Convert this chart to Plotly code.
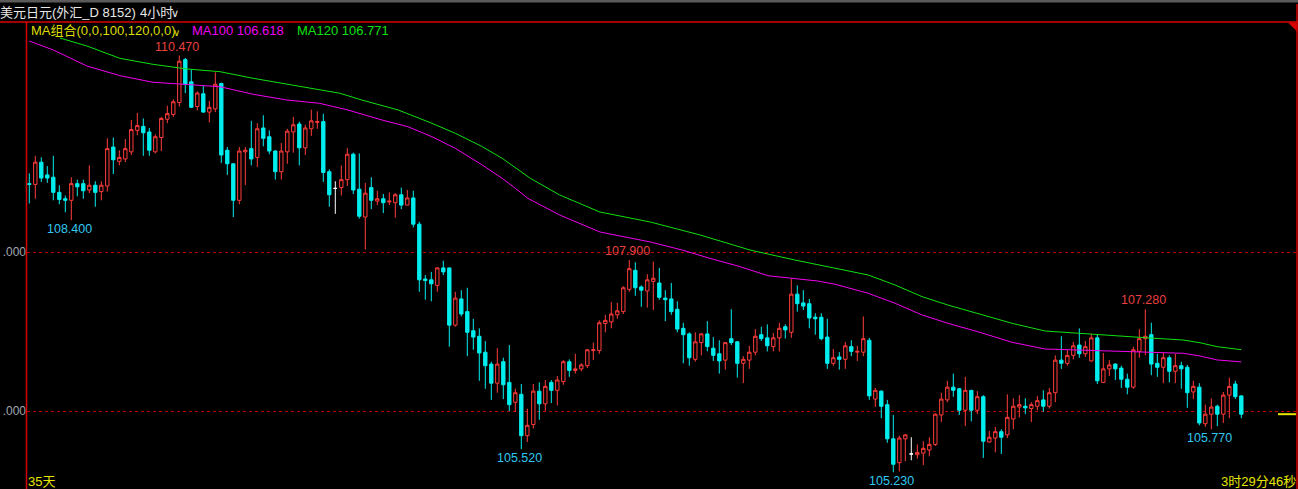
import numpy as np
import plotly.graph_objects as go

# ---------------- data ----------------
opens = [108.86,108.85,109.13,108.97,108.94,108.75,108.67,108.65,108.86,108.86,
         108.78,108.84,108.76,108.83,109.32,109.14,109.17,109.26,109.53,109.58,
         109.51,109.26,109.44,109.67,109.73,109.88,110.42,110.14,109.83,109.99,
         109.76,109.80,110.12,109.28,109.11,108.65,109.26,109.30,109.19,109.56,
         109.45,109.27,109.01,109.26,109.51,109.61,109.31,109.55,109.63,109.64,
         109.01,108.80,108.81,108.91,109.23,108.79,108.44,108.81,108.64,108.67,
         108.63,108.62,108.72,108.59,108.68,108.35,107.66,107.65,107.58,107.80,
         107.80,107.08,107.41,107.25,107.01,106.94,106.74,106.59,106.35,106.62,
         106.36,106.11,106.21,105.69,105.83,106.25,106.09,106.36,106.26,106.37,
         106.62,106.51,106.53,106.57,106.76,106.76,107.10,107.12,107.21,107.25,
         107.53,107.77,107.56,107.51,107.63,107.61,107.42,107.41,107.28,107.04,
         106.97,106.65,106.86,106.97,106.79,106.72,106.64,106.91,106.87,106.60,
         106.64,106.74,106.96,106.92,106.81,106.92,107.06,106.99,107.47,107.36,
         107.35,107.18,107.18,106.93,106.60,106.68,106.65,106.81,106.74,106.74,
         106.89,106.15,106.25,106.08,105.65,105.35,105.65,105.46,105.45,105.47,
         105.51,105.58,105.95,106.14,106.30,106.28,106.01,106.26,106.01,106.18,
         105.61,105.66,105.74,105.70,105.90,106.05,106.06,106.03,106.06,106.14,
         106.06,106.23,106.64,106.60,106.70,106.83,106.72,106.63,106.92,106.36,
         106.53,106.59,106.54,106.40,106.30,106.75,106.91,106.96,106.60,106.55,
         106.67,106.50,106.57,106.55,106.24,106.30,105.84,105.96,106.06,105.96,
         106.20,106.34,106.19]
highs = [108.99,109.21,109.19,109.08,109.21,108.84,108.71,108.94,108.91,108.91,
         109.09,108.89,108.89,109.43,109.44,109.28,109.42,109.66,109.75,109.68,
         109.56,109.48,109.70,109.84,109.92,110.47,110.44,110.30,110.02,110.09,
         109.90,110.26,110.13,109.32,109.11,109.32,109.32,109.65,109.62,109.72,
         109.53,109.28,109.37,109.55,109.70,109.64,109.60,109.79,109.77,109.74,
         109.04,108.89,109.09,109.31,109.25,109.24,108.87,108.94,108.77,108.73,
         108.75,108.74,108.81,108.78,108.77,108.38,107.71,107.75,107.81,107.89,
         107.80,107.50,107.52,107.55,107.16,107.04,106.88,106.62,106.79,106.67,
         106.83,106.28,106.34,106.03,106.34,106.36,106.39,106.39,106.44,106.64,
         106.65,106.72,106.60,106.78,106.86,107.14,107.21,107.37,107.36,107.57,
         107.90,107.87,107.58,107.72,107.88,107.80,107.52,107.61,107.38,107.11,
         106.99,106.99,106.98,107.13,106.93,106.89,106.86,107.28,106.88,106.69,
         106.82,107.03,107.06,107.09,106.98,107.11,107.09,107.66,107.58,107.52,
         107.41,107.23,107.23,107.16,106.78,106.74,106.87,106.89,106.82,107.19,
         106.92,106.29,106.26,106.14,105.95,105.69,105.71,105.67,105.58,105.62,
         105.67,105.97,106.23,106.38,106.47,106.29,106.43,106.26,106.25,106.20,
         105.75,105.80,105.77,106.21,106.16,106.20,106.16,106.11,106.19,106.26,
         106.29,106.70,106.94,106.77,106.87,107.04,106.88,106.97,106.96,106.73,
         106.64,106.60,106.57,106.47,106.81,107.03,107.28,107.11,106.72,106.74,
         106.70,106.72,106.62,106.58,106.38,106.35,106.08,106.16,106.08,106.24,
         106.42,106.38,106.20]
lows = [108.61,108.67,108.88,108.87,108.65,108.60,108.50,108.40,108.70,108.67,
        108.74,108.57,108.65,108.76,108.98,109.09,109.13,109.22,109.47,109.21,
        109.21,109.24,109.27,109.62,109.70,109.83,110.00,109.81,109.78,109.75,
        109.63,109.76,109.12,108.97,108.44,108.60,108.84,109.09,109.07,109.33,
        109.23,108.91,108.91,109.11,109.25,109.09,109.22,109.46,109.55,108.88,
        108.57,108.48,108.71,108.83,108.73,108.42,108.03,108.54,108.59,108.49,
        108.59,108.43,108.54,108.59,108.31,107.50,107.40,107.38,107.50,107.71,
        106.81,107.06,107.19,106.69,106.77,106.38,106.28,106.14,106.23,106.15,
        106.00,105.99,105.52,105.61,105.78,105.89,106.00,106.10,106.07,106.33,
        106.43,106.47,106.50,106.54,106.64,106.72,106.99,107.04,107.16,107.22,
        107.50,107.45,107.31,107.30,107.27,107.40,107.13,107.21,106.99,106.60,
        106.57,106.62,106.70,106.75,106.63,106.47,106.52,106.83,106.42,106.35,
        106.53,106.70,106.88,106.75,106.75,106.75,106.91,106.92,107.25,107.27,
        107.04,106.96,106.89,106.53,106.57,106.52,106.53,106.69,106.63,106.69,
        106.14,106.05,105.91,105.60,105.23,105.24,105.37,105.38,105.40,105.32,
        105.43,105.56,105.86,106.11,106.18,105.95,105.81,105.87,105.96,105.41,
        105.60,105.48,105.46,105.66,105.77,105.92,105.96,105.86,106.01,105.99,
        106.03,106.11,106.53,106.57,106.65,106.67,106.68,106.62,106.34,106.35,
        106.44,106.39,106.29,106.21,106.28,106.67,106.70,106.45,106.43,106.35,
        106.36,106.35,106.28,106.04,106.15,105.82,105.80,105.77,105.81,105.85,
        105.91,106.15,105.91]
closes = [108.85,109.13,108.93,108.93,108.75,108.66,108.65,108.86,108.82,108.77,
          108.84,108.75,108.84,109.30,109.16,109.19,109.30,109.54,109.59,109.50,
          109.28,109.45,109.68,109.74,109.89,110.40,110.11,109.82,110.00,109.76,
          109.82,110.11,109.22,109.11,108.65,109.27,109.28,109.17,109.55,109.43,
          109.27,109.01,109.27,109.52,109.60,109.31,109.56,109.65,109.64,109.00,
          108.72,108.80,108.91,109.23,108.78,108.45,108.74,108.65,108.67,108.62,
          108.64,108.72,108.59,108.68,108.35,107.65,107.64,107.60,107.80,107.75,
          107.08,107.42,107.22,106.99,106.93,106.73,106.57,106.35,106.59,106.33,
          106.08,106.23,105.69,105.82,106.25,106.09,106.31,106.26,106.39,106.62,
          106.51,106.53,106.58,106.77,106.77,107.11,107.14,107.22,107.26,107.55,
          107.79,107.55,107.52,107.65,107.67,107.43,107.40,107.25,107.03,106.96,
          106.67,106.87,106.97,106.81,106.70,106.63,106.86,106.86,106.60,106.65,
          106.74,106.94,106.91,106.82,106.92,107.04,107.02,107.47,107.35,107.32,
          107.17,107.16,106.91,106.60,106.67,106.65,106.82,106.75,106.75,106.91,
          106.19,106.26,106.06,105.65,105.33,105.66,105.70,105.46,105.48,105.53,
          105.58,105.96,106.15,106.30,106.26,106.01,106.26,106.01,106.18,105.62,
          105.67,105.74,105.67,105.92,106.06,106.08,106.04,106.08,106.13,106.06,
          106.23,106.64,106.60,106.70,106.82,106.72,106.81,106.92,106.38,106.53,
          106.58,106.53,106.40,106.30,106.77,106.91,106.94,106.59,106.55,106.67,
          106.50,106.57,106.53,106.23,106.31,105.85,105.96,106.05,105.96,106.20,
          106.31,106.18,105.96]

# MA lines, sampled along the drawn curves (bar index, price)
ma100_idx = [0, 4, 9.6, 15.1, 20.6, 24.6, 31.8, 37.3, 42.9, 48.4, 53.1, 58.8, 63.1,
             67.1, 71, 75.5, 78.8, 81, 83.1, 88.4, 95.1, 103.5, 108.8, 113.8, 118.1,
             123.1, 126.4, 131.4, 134.3, 139.8, 144.3, 148.8, 153.1, 158.1, 163.8,
             169.3, 174.8, 180.5, 188.1, 192.3, 195.1, 198, 202]
ma100_val = [110.654, 110.541, 110.340, 110.218, 110.135, 110.113, 110.079, 109.984,
             109.912, 109.870, 109.786, 109.660, 109.576, 109.450, 109.304, 109.094,
             108.927, 108.801, 108.675, 108.465, 108.252, 108.126, 108.025, 107.912,
             107.824, 107.702, 107.673, 107.635, 107.594, 107.481, 107.355, 107.208,
             107.103, 106.997, 106.864, 106.780, 106.767, 106.755, 106.738, 106.726,
             106.692, 106.642, 106.618]
ma120_idx = [5.1, 9.6, 15.1, 20.6, 26.3, 31.8, 37.3, 42.9, 48.4, 51.8, 55.4, 61.5,
             67.1, 71, 75.5, 78.8, 83.5, 88.4, 95.1, 103.5, 111.8, 120.1, 127.6,
             134.3, 139.8, 144.3, 148.8, 153.1, 158.1, 163.8, 169.3, 174.8, 180.5,
             186, 192.3, 195.1, 198, 202]
ma120_val = [110.692, 110.591, 110.436, 110.361, 110.302, 110.268, 110.185, 110.113,
             110.047, 109.996, 109.912, 109.786, 109.619, 109.493, 109.325, 109.179,
             108.927, 108.717, 108.503, 108.377, 108.214, 108.025, 107.899, 107.795,
             107.711, 107.585, 107.438, 107.333, 107.229, 107.103, 107.006, 106.977,
             106.943, 106.922, 106.893, 106.859, 106.809, 106.771]

# marked highs / lows: (bar index, price, text, is_high)
marks = [(25, 110.47, "110.470", True), (7, 108.40, "108.400", False),
         (100, 107.90, "107.900", True), (82, 105.52, "105.520", False),
         (144, 105.23, "105.230", False), (186, 107.28, "107.280", True),
         (197, 105.77, "105.770", False)]

# price grid (the axis labels are shown clipped to ".000" in the reference)
grid_vals = [106, 108]
grid_text = [".000", ".000"]

title_text = "美元日元(外汇_D 8152)"
period_text = "4小时"
ma_group_text = "MA组合(0,0,100,120,0,0)"
ma100_text = "MA100 106.618"
ma120_text = "MA120 106.771"
left_bottom_text = "35天"
right_bottom_text = "3时29分46秒"

# ---------------- figure ----------------
W, H = 1298, 489
L, R, T, B = 27, 1, 22, 0
pw, ph = W - L - R, H - T - B

def px(x):
    return (x - L) / pw

def py(y):
    return (H - B - y) / ph

RED = "#ff3c3c"
CYAN = "#00eeee"
YELLOW = "#e6e600"
AXRED = "#d80000"

o = np.array(opens); h = np.array(highs); lo = np.array(lows); c = np.array(closes)
idx = np.arange(len(o))
up = c > o
dn = c < o
dj = c == o

fig = go.Figure()

def add_candles(mask, line_col, fill_col):
    fig.add_trace(go.Candlestick(
        x=idx[mask], open=o[mask], high=h[mask], low=lo[mask], close=c[mask],
        increasing=dict(line=dict(color=line_col, width=1), fillcolor=fill_col),
        decreasing=dict(line=dict(color=line_col, width=1), fillcolor=fill_col),
        hoverinfo="skip", showlegend=False))

add_candles(up, RED, "#000000")
add_candles(dn, CYAN, CYAN)
add_candles(dj, "#ffffff", "#ffffff")

fig.add_trace(go.Scatter(x=ma100_idx, y=ma100_val, mode="lines",
                         line=dict(color="#f000f0", width=1),
                         hoverinfo="skip", showlegend=False))
fig.add_trace(go.Scatter(x=ma120_idx, y=ma120_val, mode="lines",
                         line=dict(color="#10e010", width=1),
                         hoverinfo="skip", showlegend=False))

ann = []
for (i, p, t, is_high) in marks:
    ann.append(dict(x=i, y=p, xref="x", yref="y", text=t, showarrow=False,
                    xshift=-2, yshift=9 if is_high else -9,
                    font=dict(family="Liberation Sans", size=12.5,
                              color="#e84040" if is_high else "#30c8f0")))

def txt(t, x, y, color, size=12.5, anchor="left", family="Liberation Sans, Noto Sans CJK SC"):
    ann.append(dict(x=px(x), y=py(y), xref="paper", yref="paper", text=t,
                    showarrow=False, xanchor=anchor, yanchor="middle", borderpad=0,
                    font=dict(family=family, size=size, color=color)))

txt(title_text, -1, 12, "#e8e8e8", size=13)
txt(period_text, 139, 12, "#e8e8e8", size=13)
txt("∨", 170, 13, "#e8e8e8", size=11, family="DejaVu Sans")
txt(ma_group_text, 30, 30, "#dede00", size=13)
txt("∨", 172, 33, "#dede00", size=10, family="DejaVu Sans")
txt(ma100_text, 191, 30, "#f000f0", size=13)
txt(ma120_text, 296, 30, "#10e010", size=13)
txt(left_bottom_text, 27, 481, YELLOW, size=13)
txt(right_bottom_text, 1297, 481, YELLOW, size=13, anchor="right")

shapes = [
    # top grey strip
    dict(type="rect", xref="paper", yref="paper", x0=px(0), x1=px(W), y0=py(2.5), y1=py(0),
         fillcolor="#5a5a5a", line=dict(width=0), layer="above"),
    # frame lines
    dict(type="line", xref="paper", yref="paper", x0=px(0), x1=px(W), y0=py(22), y1=py(22),
         line=dict(color=AXRED, width=1.5), layer="above"),
    dict(type="line", xref="paper", yref="paper", x0=px(26.5), x1=px(26.5), y0=py(22), y1=py(H),
         line=dict(color=AXRED, width=1.5), layer="above"),
    dict(type="line", xref="paper", yref="paper", x0=px(1297), x1=px(1297), y0=py(4), y1=py(H),
         line=dict(color=AXRED, width=1.5), layer="above"),
    dict(type="path", xref="paper", yref="paper",
         path=f"M {px(1288)},{py(22.5)} L {px(1297.5)},{py(22.5)} L {px(1297.5)},{py(32)} Z",
         fillcolor=AXRED, line=dict(width=0), layer="above"),
    # last price marker
    dict(type="line", xref="paper", yref="y", x0=px(1278), x1=px(1296), y0=closes[-1], y1=closes[-1],
         line=dict(color=YELLOW, width=2), layer="above"),
]

fig.update_layout(
    width=W, height=H, margin=dict(l=L, r=R, t=T, b=B, pad=0),
    paper_bgcolor="#000000", plot_bgcolor="#000000",
    boxgap=0.2, showlegend=False, hovermode=False,
    annotations=ann, shapes=shapes,
    xaxis=dict(range=[-0.383, 211.28], showgrid=False, zeroline=False, showticklabels=False,
               ticks="", rangeslider=dict(visible=False), fixedrange=True, showline=False),
    yaxis=dict(range=[105.019, 110.893], tickvals=grid_vals, ticktext=grid_text,
               showgrid=True, gridcolor="#c00000", griddash="dot", gridwidth=1,
               zeroline=False, ticks="", automargin=False, showline=False,
               tickfont=dict(family="Liberation Sans", size=12, color="#a0a8b0"),
               fixedrange=True),
)

fig.write_html("out.html", config={"displayModeBar": False},
               post_script="document.body.style.margin='0';document.body.style.background='#000';")
